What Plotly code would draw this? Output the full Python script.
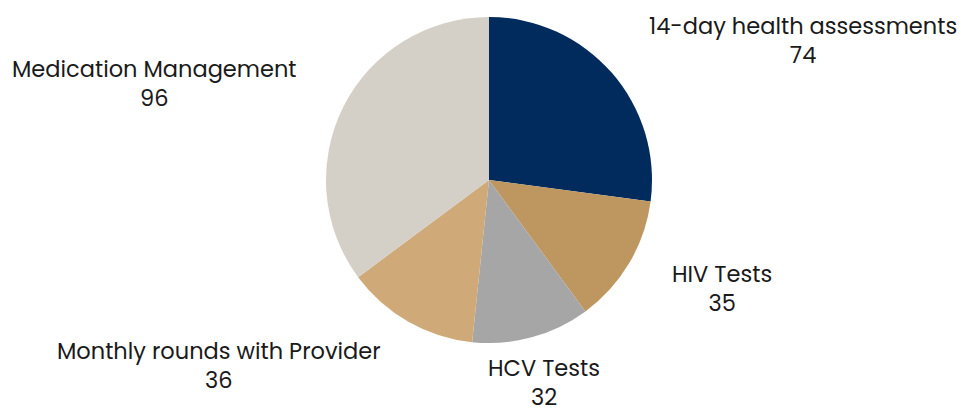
import plotly.graph_objects as go

categories = ["14-day health assessments", "HIV Tests", "HCV Tests",
              "Monthly rounds with Provider", "Medication Management"]
values = [74, 35, 32, 36, 96]
colors = ["#002b5c", "#bd9660", "#a6a6a6", "#cfaa78", "#d4d0c8"]

# label placement (pixel centres of each label block)
label_pos = [(803, 41), (722, 288), (544, 382), (219, 365), (154, 84)]

W, H = 964, 408
cx, cy, r = 489, 180, 163

fig = go.Figure(go.Pie(
    labels=categories,
    values=values,
    sort=False,
    direction="clockwise",
    rotation=0,
    marker=dict(colors=colors, line=dict(width=0)),
    textinfo="none",
    hoverinfo="label+value",
    domain=dict(x=[(cx - r) / W, (cx + r) / W], y=[1 - (cy + r) / H, 1 - (cy - r) / H]),
    showlegend=False,
))

for lab, val, (px, py) in zip(categories, values, label_pos):
    fig.add_annotation(
        x=px / W, y=1 - py / H, xref="paper", yref="paper",
        xanchor="center", yanchor="middle",
        text=f"{lab}<br>{val}", showarrow=False, align="center",
        font=dict(family="Poppins, Open Sans, sans-serif", size=22.5, color="#1a1a1a"),
    )

fig.update_layout(
    width=W, height=H,
    margin=dict(l=0, r=0, t=0, b=0),
    paper_bgcolor="white",
    plot_bgcolor="white",
)

fig.write_html("out.html", config={"displayModeBar": False},
               post_script="document.body.style.margin='0';")
